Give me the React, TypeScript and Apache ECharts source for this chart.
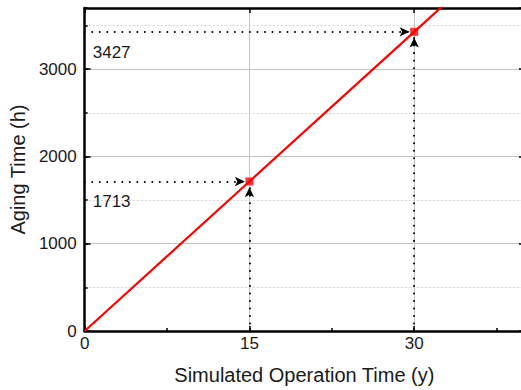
import React, { useEffect, useRef } from "react";
import * as echarts from "echarts";

const years = [0, 15, 30, 40];
const agingHours = [0, 1713, 3427, 4569];
const markedYears = [15, 30];
const markedHours = [1713, 3427];

const X_MIN = 0, X_MAX = 40, X_MAJOR = 15, X_MINOR = 7.5;
const Y_MIN = 0, Y_MAX = 3700, Y_MAJOR = 1000, Y_MINOR = 500;
const ARROW_GAP_X = 0.42;
const ARROW_GAP_Y = 65;

const FONT = "Liberation Sans, Arial, sans-serif";
const TXT = "#1a1a1a";

export default function App() {
  const ref = useRef<HTMLDivElement>(null);
  useEffect(() => {
    if (!ref.current) return;
    const chart = echarts.init(ref.current, null, { renderer: "svg" });
    const common = { min: X_MIN, max: X_MAX, type: "value" as const };
    const commonY = { min: Y_MIN, max: Y_MAX, type: "value" as const };

    const hLines = markedYears.map((x, i) => [
      { coord: [X_MIN, markedHours[i]], symbol: "none" },
      { coord: [x - ARROW_GAP_X, markedHours[i]], symbol: "arrow" },
    ]);
    const vLines = markedYears.map((x, i) => [
      { coord: [x, Y_MIN], symbol: "none" },
      { coord: [x, markedHours[i] - ARROW_GAP_Y], symbol: "arrow" },
    ]);

    const plain = (v: number) => String(v);

    chart.setOption({
      animation: false,
      backgroundColor: "#ffffff",
      textStyle: { fontFamily: FONT },
      grid: { left: 84, top: 8, bottom: 59, right: 0, containLabel: false },
      xAxis: [
        {
          ...common,
          position: "bottom",
          interval: X_MINOR,
          axisLine: { show: true, onZero: false, lineStyle: { color: "#000", width: 2.5 } },
          axisTick: { show: true, inside: true, length: 3, lineStyle: { color: "#000", width: 1.5 } },
          axisLabel: { show: false },
          splitLine: { show: false },
        },
        {
          ...common,
          position: "bottom",
          interval: X_MAJOR,
          axisLine: { show: false, onZero: false },
          axisTick: { show: true, inside: true, length: 5, lineStyle: { color: "#000", width: 1.5 } },
          axisLabel: {
            show: true,
            margin: 4,
            fontSize: 17,
            color: TXT,
            fontFamily: FONT,
            showMaxLabel: false,
            formatter: plain,
          },
          splitLine: { show: true, lineStyle: { color: "#c4c4c4", width: 1, type: "solid" } },
          name: "Simulated Operation Time (y)",
          nameLocation: "middle",
          nameGap: 34,
          nameTextStyle: { fontSize: 20, color: TXT, fontFamily: FONT },
        },
        {
          ...common,
          position: "top",
          interval: X_MAJOR,
          axisLine: { show: true, onZero: false, lineStyle: { color: "#000", width: 2.5 } },
          axisTick: { show: true, inside: true, length: 5, lineStyle: { color: "#000", width: 1.5 } },
          axisLabel: { show: false },
          splitLine: { show: false },
        },
      ],
      yAxis: [
        {
          ...commonY,
          position: "left",
          interval: Y_MINOR,
          axisLine: { show: true, onZero: false, lineStyle: { color: "#000", width: 2.5 } },
          axisTick: { show: true, inside: true, length: 3, lineStyle: { color: "#000", width: 1.5 } },
          axisLabel: { show: false },
          splitLine: { show: true, lineStyle: { color: "#d6d6d6", width: 1, type: [2, 2] } },
        },
        {
          ...commonY,
          position: "left",
          interval: Y_MAJOR,
          axisLine: { show: false, onZero: false },
          axisTick: { show: true, inside: true, length: 6, lineStyle: { color: "#000", width: 1.5 } },
          axisLabel: {
            show: true,
            margin: 8,
            fontSize: 17,
            color: TXT,
            fontFamily: FONT,
            showMaxLabel: false,
            formatter: plain,
          },
          splitLine: { show: true, lineStyle: { color: "#c4c4c4", width: 1, type: "solid" } },
          name: "Aging Time (h)",
          nameLocation: "middle",
          nameGap: 55,
          nameTextStyle: { fontSize: 20, color: TXT, fontFamily: FONT },
        },
        {
          ...commonY,
          position: "right",
          interval: Y_MAJOR,
          axisLine: { show: true, onZero: false, lineStyle: { color: "#000", width: 2.5 } },
          axisTick: { show: true, inside: true, length: 5, lineStyle: { color: "#000", width: 1.5 } },
          axisLabel: { show: false },
          splitLine: { show: false },
        },
      ],
      series: [
        {
          type: "line",
          xAxisIndex: 1,
          yAxisIndex: 1,
          data: years.map((x, i) => [x, agingHours[i]]),
          showSymbol: false,
          clip: true,
          lineStyle: { color: "#ff0000", width: 2.2 },
          itemStyle: { color: "#ff0000" },
          z: 3,
          markLine: {
            silent: true,
            animation: false,
            symbol: ["none", "arrow"],
            symbolSize: [7, 10],
            lineStyle: { color: "#000", width: 2, type: [0.01, 7.5], cap: "round" },
            itemStyle: { color: "#000" },
            label: { show: false },
            emphasis: { disabled: true },
            data: [
              ...hLines.map((d, i) => [
                {
                  ...d[0],
                  label: {
                    show: true,
                    position: "insideStartBottom",
                    formatter: String(markedHours[i]),
                    fontSize: 17,
                    color: TXT,
                    fontFamily: FONT,
                    distance: [8, 12],
                  },
                },
                d[1],
              ]),
              ...vLines,
            ],
          },
        },
        {
          type: "scatter",
          xAxisIndex: 1,
          yAxisIndex: 1,
          data: markedYears.map((x, i) => [x, markedHours[i]]),
          symbol: "rect",
          symbolSize: 8,
          itemStyle: { color: "#ff0000" },
          z: 10,
        },
      ],
    });
    return () => chart.dispose();
  }, []);
  return (
    <div style={{ position: "absolute", left: 0, top: 0, width: 521, height: 390, overflow: "hidden", background: "#fff" }}>
      <div ref={ref} style={{ width: 524, height: 390 }} />
    </div>
  );
}
